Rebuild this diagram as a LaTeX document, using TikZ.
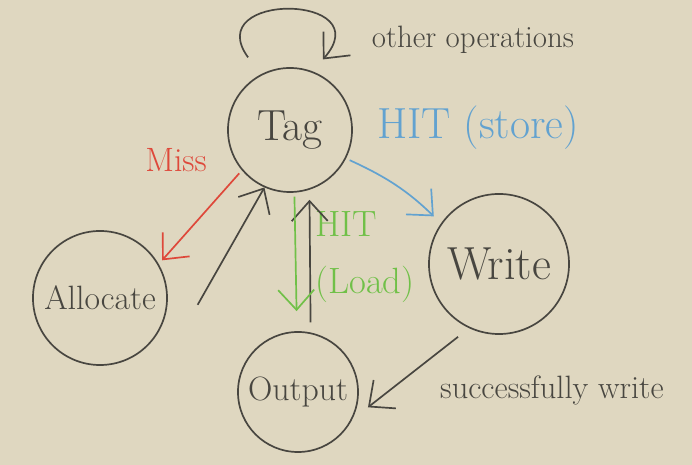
\documentclass[tikz,border=0pt]{standalone}
\usetikzlibrary{arrows.meta}
\definecolor{paper}{RGB}{223,215,192}
\definecolor{pen}{RGB}{72,70,64}
\definecolor{penred}{RGB}{222,72,58}
\definecolor{penblue}{RGB}{98,162,208}
\definecolor{pengreen}{RGB}{112,192,72}
\begin{document}
\begin{tikzpicture}[x=0.025cm, y=0.025cm, line width=1.2pt, pen,
        main/.style = {draw, circle, inner sep=0pt},
        arr/.style = {-{Straight Barb[length=5mm,width=9mm]}},
        lbl/.style = {inner sep=0pt}]
    \useasboundingbox (0,0) rectangle (692,465);
    \fill[paper] (0,0) rectangle (692,465);
    % states
    \node[main, minimum size=3.1cm, font=\fontsize{31}{34}\selectfont] (tag) at (290,335) {Tag};
    \node[main, minimum size=3.35cm, font=\fontsize{24}{28}\selectfont] (alloc) at (100,167) {Allocate};
    \node[main, minimum size=3.5cm, font=\fontsize{33}{36}\selectfont] (write) at (499,201) {Write};
    \node[main, minimum size=3cm, font=\fontsize{24}{28}\selectfont] (out) at (298,73) {Output};
    % labels
    \node[lbl, font=\fontsize{22}{26}\selectfont] (other) at (473,425) {other operations};
    \node[lbl, penblue, font=\fontsize{31}{36}\selectfont] (store) at (478,337) {HIT (store)};
    \node[lbl, penred, font=\fontsize{24}{28}\selectfont] (miss) at (176,305) {Miss};
    \node[lbl, pengreen, align=left, font=\fontsize{26}{41}\selectfont] (load) at (365,208) {HIT\\(Load)};
    \node[lbl, font=\fontsize{23}{27}\selectfont] (succ) at (552,75) {successfully write};
    % transitions
    \draw[arr] ([shift={(120:21)}]tag.120) .. controls +(-48,66) and +(58,66) .. ([shift={(65:15)}]tag.65);
    \draw[arr, penred, shorten <=1mm, shorten >=1.25mm] (tag.220) -- (alloc.30);
    \draw[arr] ([shift={(-4:30)}]alloc.-4) -- (tag.246);
    \draw[arr, shorten <=2.5mm, shorten >=2.5mm] (out.78) -- (tag.-72);
    \draw[arr, pengreen, shorten <=1mm, shorten >=5mm] (tag.-86) -- (out.91);
    \draw[arr, penblue, shorten <=1mm, shorten >=2.5mm] (tag.-27) to[bend left=10] (write.145);
    \draw[arr, shorten <=3.5mm, shorten >=5mm] (write.245) -- (out.-27);
\end{tikzpicture}
\end{document}
